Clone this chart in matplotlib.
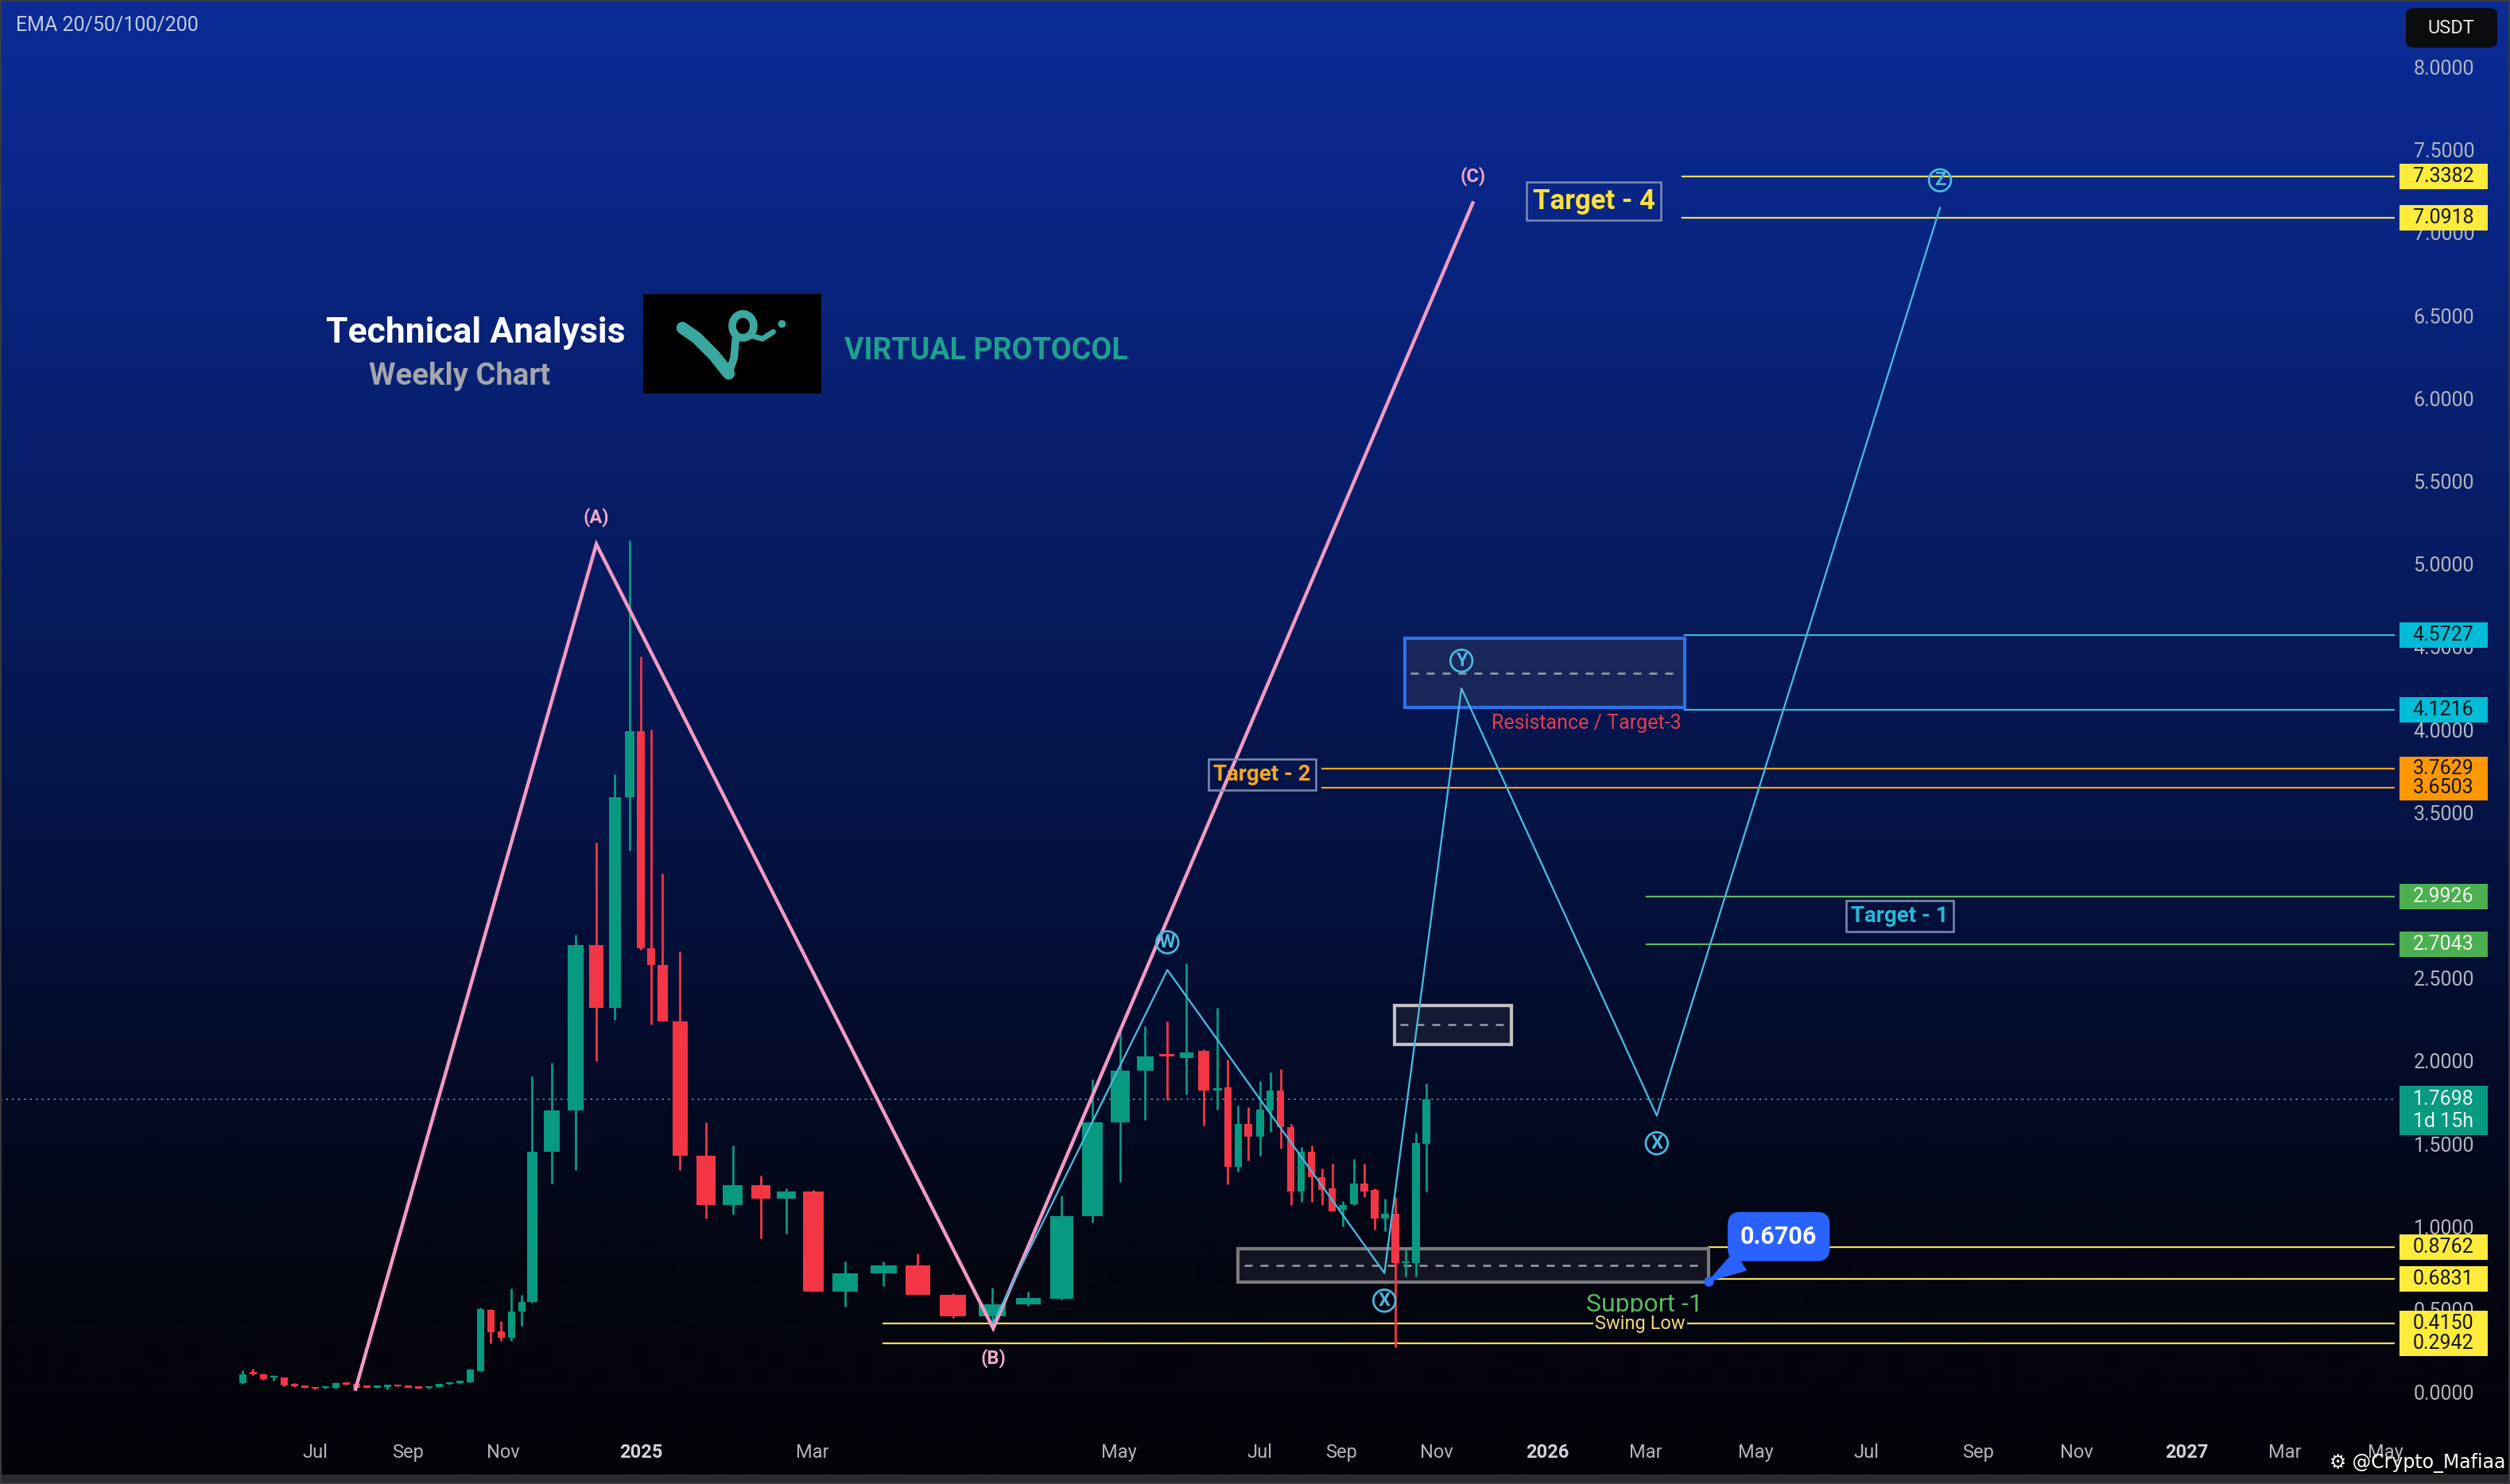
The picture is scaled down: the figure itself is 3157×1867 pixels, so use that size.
#!/usr/bin/env python3
"""VIRTUAL/USDT weekly chart with wave count, targets and support levels."""

import numpy as np
import matplotlib
matplotlib.use('Agg')
import matplotlib.pyplot as plt
import matplotlib.transforms as mtransforms
from matplotlib.patches import Rectangle, FancyBboxPatch, Ellipse

plt.rcParams['font.family'] = ['Roboto', 'DejaVu Sans']

# ---------------------------------------------------------------- data ----
# position of each weekly bar on the drawn time axis (in weeks)
bar_t = [0, 1, 2, 3, 4, 5, 6, 7, 8, 9,
         10, 11, 12, 13, 14, 15, 16, 17, 18, 19,
         20, 21, 22, 23, 24, 25, 26, 27, 28,
         29.9, 32.2, 34.2, 36.0, 37.4, 38.5, 39.5, 40.6, 42.3, 44.8,
         47.4, 50.1, 52.6, 55.2, 58.3, 62.0, 65.3, 68.7, 72.5, 76.0,
         79.2, 82.2, 84.9, 87.3, 89.4, 91.3, 93.0, 94.3, 95.3, 96.3,
         97.3, 98.4, 99.4, 100.4, 101.4, 102.4, 103.4, 104.4, 105.4, 106.4,
         107.5, 108.5, 109.5, 110.5, 111.5, 112.5, 113.5, 114.5]
opens = [0.054, 0.118, 0.110, 0.088, 0.088, 0.045, 0.035, 0.030, 0.027, 0.026,
         0.057, 0.050, 0.032, 0.029, 0.034, 0.038, 0.032, 0.028, 0.025, 0.033,
         0.050, 0.056, 0.062, 0.130, 0.497, 0.370, 0.330, 0.486, 0.545,
         1.45, 1.70, 2.70, 2.32, 3.59, 3.99, 2.68, 2.58, 2.24, 1.43,
         1.13, 1.25, 1.17, 1.21, 0.61, 0.72, 0.765, 0.59, 0.46, 0.53,
         0.565, 1.065, 1.63, 1.94, 2.04, 2.02, 2.06, 1.82, 1.84, 1.36,
         1.62, 1.545, 1.70, 1.82, 1.60, 1.21, 1.45, 1.30, 1.23, 1.10,
         1.135, 1.26, 1.22, 1.05, 1.08, 0.78, 0.78, 1.50]
highs = [0.133, 0.140, 0.112, 0.105, 0.090, 0.054, 0.036, 0.031, 0.031, 0.060,
         0.062, 0.052, 0.034, 0.033, 0.037, 0.039, 0.033, 0.029, 0.032, 0.053,
         0.058, 0.066, 0.140, 0.510, 0.500, 0.430, 0.625, 0.590, 1.91,
         1.99, 2.76, 3.32, 3.73, 5.14, 4.44, 4.00, 3.13, 2.66, 1.63,
         1.49, 1.31, 1.23, 1.22, 0.79, 0.79, 0.84, 0.60, 0.63, 0.61,
         1.19, 1.89, 2.17, 2.21, 2.24, 2.59, 2.07, 2.32, 2.01, 1.73,
         1.72, 1.88, 1.93, 1.95, 1.62, 1.48, 1.49, 1.35, 1.38, 1.155,
         1.41, 1.38, 1.23, 1.17, 1.18, 0.86, 1.565, 1.865]
lows = [0.050, 0.105, 0.075, 0.072, 0.036, 0.033, 0.026, 0.018, 0.024, 0.024,
        0.045, 0.022, 0.026, 0.027, 0.016, 0.033, 0.027, 0.021, 0.024, 0.032,
        0.045, 0.052, 0.060, 0.128, 0.298, 0.310, 0.310, 0.400, 0.540,
        1.26, 1.34, 2.00, 2.25, 3.27, 2.67, 2.22, 2.24, 1.34, 1.05,
        1.075, 0.93, 0.96, 0.61, 0.515, 0.64, 0.59, 0.45, 0.39, 0.52,
        0.56, 1.025, 1.27, 1.645, 1.765, 1.80, 1.61, 1.705, 1.257, 1.33,
        1.40, 1.43, 1.57, 1.47, 1.13, 1.15, 1.15, 1.13, 1.09, 1.00,
        1.13, 1.18, 0.98, 0.97, 0.27, 0.70, 0.70, 1.21]
closes = [0.110, 0.110, 0.080, 0.092, 0.040, 0.037, 0.029, 0.022, 0.030, 0.057,
          0.047, 0.026, 0.029, 0.032, 0.036, 0.035, 0.029, 0.024, 0.031, 0.050,
          0.056, 0.062, 0.137, 0.500, 0.364, 0.330, 0.490, 0.547, 1.45,
          1.70, 2.70, 2.32, 3.59, 3.99, 2.68, 2.58, 2.24, 1.43, 1.13,
          1.25, 1.17, 1.21, 0.61, 0.72, 0.765, 0.59, 0.46, 0.53, 0.57,
          1.065, 1.63, 1.94, 2.03, 2.03, 2.05, 1.82, 1.835, 1.36, 1.62,
          1.545, 1.705, 1.82, 1.60, 1.21, 1.45, 1.30, 1.22, 1.09, 1.13,
          1.26, 1.21, 1.05, 1.08, 0.78, 0.79, 1.505, 1.7698]
last_price = 1.7698

tick_t = [7.0, 16.0, 25.2, 38.5, 55.1, 84.8, 98.4, 106.3, 115.5, 126.2,
          135.7, 146.4, 157.1, 167.9, 177.4, 188.1, 197.6, 207.3]
tick_labels = ['Jul', 'Sep', 'Nov', '2025', 'Mar', 'May', 'Jul', 'Sep', 'Nov',
               '2026', 'Mar', 'May', 'Jul', 'Sep', 'Nov', '2027', 'Mar', 'May']
price_ticks = [0.0, 0.5, 1.0, 1.5, 2.0, 2.5, 3.0, 3.5, 4.0,
               4.5, 5.0, 5.5, 6.0, 6.5, 7.0, 7.5, 8.0]

# (A)-(B)-(C) swing
abc_t = [10.9, 34.2, 72.6, 119.0]
abc_p = [0.02, 5.12, 0.386, 7.18]
abc_names = ['', '(A)', '(B)', '(C)']

# W-X-Y-X-Z projection
wxy_t = [72.6, 89.45, 110.45, 117.9, 136.8, 164.2]
wxy_p = [0.42, 2.55, 0.72, 4.25, 1.67, 7.15]
wxy_names = ['', 'W', 'X', 'Y', 'X', 'Z']

# horizontal levels drawn to the price scale
level_prices = [7.3382, 7.0918, 4.5727, 4.1216, 3.7629, 3.6503,
                2.9926, 2.7043, 0.8762, 0.6831, 0.4150, 0.2942]
level_start_t = [139.3, 139.3, 139.5, 139.5, 104.4, 104.4,
                 135.8, 135.8, 141.8, 141.8, 62.0, 62.0]
level_kind = ['t4', 't4', 'res', 'res', 't2', 't2',
              't1', 't1', 'sup', 'sup', 'swing', 'swing']

# boxed zones: resistance / mid box / support
zone_t0 = [112.4, 111.4, 96.3]
zone_t1 = [139.5, 122.7, 141.8]
zone_lo = [4.135, 2.10, 0.666]
zone_hi = [4.55, 2.337, 0.869]

# target labels
target_names = ['Target - 4', 'Target - 2', 'Target - 1']
target_t = [130.7, 98.6, 160.3]
target_p = [7.19, 3.73, 2.874]

support_price = 0.6706

# ------------------------------------------------------------- layout ----
W, H, DPI = 3157, 1867, 100
AX_RIGHT_PX, AX_BOTTOM_PX = 3012, 1795

GREEN, RED = '#089981', '#f23645'
PINK, CYAN = '#f29ac4', '#4bb6dc'

LEVEL_STYLE = {
    't4': ('#f2dc5d', '#ffeb3b', '#131722'),
    'res': ('#38b2d6', '#00bcd4', '#131722'),
    't2': ('#f5a020', '#ff9800', '#131722'),
    't1': ('#5cb85c', '#4caf50', '#eef5ee'),
    'sup': ('#f2dc5d', '#ffeb3b', '#131722'),
    'swing': ('#f2dc5d', '#ffeb3b', '#131722'),
}


def draw_background(fig):
    """Vertical blue-to-black gradient behind everything."""
    stops = [0.0, 0.1, 0.45, 0.55, 0.6, 0.75, 0.85, 1.0]
    cols = np.array([(12, 44, 150), (10, 40, 140), (6, 24, 85), (4, 20, 70),
                     (4, 17, 60), (3, 10, 35), (3, 6, 18), (3, 3, 8)]) / 255
    f = np.linspace(0, 1, H)
    img = np.stack([np.interp(f, stops, cols[:, i]) for i in range(3)], axis=-1)
    bg = fig.add_axes([0, 0, 1, 1], zorder=-10)
    bg.imshow(img[:, None, :], aspect='auto', extent=[0, 1, 0, 1], origin='upper')
    bg.axis('off')
    # bottom strip and frame
    fig.patches.append(Rectangle((0, 0), 1, 12 / H, transform=fig.transFigure,
                                 fc='#2a2a2e', ec='none', zorder=-5))
    fig.patches.append(Rectangle((0, 0), 1, 1, transform=fig.transFigure,
                                 fill=False, ec='#3a3a3e', lw=3, zorder=20))


def draw_candles(ax):
    t = np.array(bar_t)
    o, h, l, c = map(np.array, (opens, highs, lows, closes))
    colors = np.where(c >= o, GREEN, RED)
    width = np.gradient(t) * 0.72
    ax.vlines(t, l, h, colors=colors, lw=2.0, zorder=3)
    body_low = np.minimum(o, c)
    body_h = np.maximum(np.abs(c - o), 0.012)
    ax.bar(t, body_h, width, bottom=body_low, color=colors, lw=0, zorder=3.1)
    ax.axhline(last_price, color='#5f8f9a', lw=1.2, ls=(0, (1.5, 3)), zorder=1.5)


def draw_waves(ax):
    ax.plot(abc_t, abc_p, color=PINK, lw=3.2, zorder=4, solid_joinstyle='miter')
    for i, name in enumerate(abc_names):
        if not name:
            continue
        up = abc_p[i] > abc_p[i - 1]
        ax.annotate(name, (abc_t[i], abc_p[i]), xytext=(0, 24 if up else -27),
                    textcoords='offset points', ha='center', va='center',
                    color='#f0a8c8', fontsize=17, fontweight='bold', zorder=6)

    ax.plot(wxy_t, wxy_p, color=CYAN, lw=1.7, zorder=4)
    for i, name in enumerate(wxy_names):
        if not name:
            continue
        up = wxy_p[i] > wxy_p[i - 1]
        ax.annotate(name, (wxy_t[i], wxy_p[i]), xytext=(0, 25 if up else -25),
                    textcoords='offset points', ha='center', va='center',
                    color=CYAN, fontsize=17, fontweight='bold', zorder=6,
                    bbox=dict(boxstyle='circle,pad=0.1', fc='none', ec=CYAN, lw=2.0))


def draw_zones(ax):
    edges = ['#2f6fe8', '#c0c0c0', '#7a7a7e']
    faces = [(0.12, 0.17, 0.36, 0.8), (0.10, 0.12, 0.22, 0.8), (0.09, 0.10, 0.15, 0.85)]
    for t0, t1, lo, hi, ec, fc in zip(zone_t0, zone_t1, zone_lo, zone_hi, edges, faces):
        ax.add_patch(Rectangle((t0, lo), t1 - t0, hi - lo, fc=fc, ec=ec, lw=3, zorder=2.5))
        ax.plot([t0 + 0.6, t1 - 0.6], [(lo + hi) / 2] * 2, color='#9aa0aa',
                lw=1.8, ls=(0, (4, 4)), zorder=2.6)


def draw_levels(ax, fig):
    blend = mtransforms.blended_transform_factory(fig.transFigure, ax.transData)
    x_end = ax.get_xlim()[1]
    for p, t0, kind in zip(level_prices, level_start_t, level_kind):
        line_c, badge_c, text_c = LEVEL_STYLE[kind]
        ax.plot([t0, x_end], [p, p], color=line_c, lw=1.6, zorder=2.2)
        ax.add_patch(FancyBboxPatch((3018 / W, p - 0.076), 111 / W, 0.152,
                                    boxstyle='square,pad=0', transform=blend,
                                    fc=badge_c, ec='none', clip_on=False, zorder=6))
        ax.text(3073 / W, p, f'{p:.4f}', transform=blend, ha='center', va='center',
                fontsize=18, color=text_c, clip_on=False, zorder=7)

    # current price badge
    ax.add_patch(FancyBboxPatch((3018 / W, last_price - 0.215), 111 / W, 0.295,
                                boxstyle='square,pad=0', transform=blend,
                                fc=GREEN, ec='none', clip_on=False, zorder=6))
    ax.text(3073 / W, last_price, f'{last_price:.4f}', transform=blend, ha='center',
            va='center', fontsize=18, color='#e8f4f0', clip_on=False, zorder=7)
    ax.text(3073 / W, last_price - 0.135, '1d 15h', transform=blend, ha='center',
            va='center', fontsize=18, color='#e8f4f0', clip_on=False, zorder=7)


def draw_labels(ax):
    colors = ['#ffe03a', '#f5a524', '#2ab7d6']
    sizes = [25, 20, 20]
    for name, t, p, c, s in zip(target_names, target_t, target_p, colors, sizes):
        ax.text(t, p, name, ha='center', va='center', color=c, fontsize=s,
                fontweight='bold', zorder=6,
                bbox=dict(boxstyle='square,pad=0.22', fc='none', ec='#7d8bb0', lw=1.8))

    ax.text(130.0, 4.04, 'Resistance / Target-3', ha='center', va='center',
            color='#e0404f', fontsize=18, zorder=6)
    ax.text(135.6, 0.53, 'Support -1', ha='center', va='center',
            color='#5cb860', fontsize=23, zorder=6)
    ax.text(135.2, 0.4150, 'Swing Low', ha='center', va='center',
            color='#f5d77a', fontsize=17, zorder=6,
            bbox=dict(boxstyle='square,pad=0.1', fc='#03060f', ec='none'))

    # price callout on the support box corner
    ax.plot([141.8], [support_price], 'o', color='#2962ff', ms=8, zorder=7)
    ax.annotate(f'{support_price:.4f}', (141.8, support_price), xytext=(148.6, 0.94),
                ha='center', va='center', color='white', fontsize=22,
                fontweight='bold', zorder=8,
                bbox=dict(boxstyle='round,pad=0.5', fc='#2962ff', ec='#2962ff'),
                arrowprops=dict(arrowstyle='wedge,tail_width=0.9,shrink_factor=0.5',
                                fc='#2962ff', ec='#2962ff', shrinkA=0, shrinkB=0))


def draw_header(fig):
    fig.text(20 / W, 1 - 32 / H, 'EMA 20/50/100/200', color='#c3cbe0',
             fontsize=18, va='center', ha='left')
    fig.text(598 / W, 1 - 419 / H, 'Technical Analysis', color='white',
             fontsize=32, fontweight='bold', ha='center', va='center')
    fig.text(578 / W, 1 - 473 / H, 'Weekly Chart', color='#a4a6ac',
             fontsize=27.5, fontweight='bold', ha='center', va='center')
    fig.text(1240 / W, 1 - 441 / H, 'VIRTUAL PROTOCOL', color='#1fa08e',
             fontsize=27, fontweight='bold', ha='center', va='center')

    # logo tile
    logo = fig.add_axes([809 / W, 1 - 495 / H, 224 / W, 125 / H])
    logo.set_facecolor('black')
    logo.set_xlim(0, 1)
    logo.set_ylim(0, 1)
    logo.set_xticks([])
    logo.set_yticks([])
    for s in logo.spines.values():
        s.set_visible(False)
    teal = '#3aa8a0'
    logo.plot([0.22, 0.30, 0.40, 0.48], [0.66, 0.56, 0.38, 0.20], color=teal,
              lw=11, solid_capstyle='round')
    logo.plot([0.48, 0.51, 0.52], [0.20, 0.36, 0.56], color=teal, lw=7,
              solid_capstyle='round')
    logo.add_patch(Ellipse((0.56, 0.68), 0.12, 0.24, fill=False, ec=teal, lw=7))
    logo.plot([0.61, 0.67, 0.73], [0.58, 0.55, 0.62], color=teal, lw=5,
              solid_capstyle='round')
    logo.plot([0.775], [0.70], 'o', color=teal, ms=6)

    # quote currency tag
    fig.patches.append(FancyBboxPatch((3026 / W, 1 - 60 / H), 115 / W, 50 / H,
                                      boxstyle='round,pad=0,rounding_size=0.004',
                                      transform=fig.transFigure, fc='#0b0c10',
                                      ec='none', zorder=5))
    fig.text(3083 / W, 1 - 35 / H, 'USDT', color='#e6e6e6', fontsize=17,
             ha='center', va='center', zorder=6)
    fig.text(2930 / W, 1 - 1840 / H, '\u2699 @Crypto_Mafiaa', color='white',
             fontsize=17, ha='left', va='center', zorder=6,
             family=['DejaVu Sans'])


def main():
    fig = plt.figure(figsize=(W / DPI, H / DPI), dpi=DPI)
    draw_background(fig)

    ax = fig.add_axes([0, 1 - AX_BOTTOM_PX / H, AX_RIGHT_PX / W, AX_BOTTOM_PX / H])
    ax.set_facecolor('none')
    ax.set_xlim(-23.5, 208.2)
    ax.set_ylim(-0.208, 8.405)
    for s in ax.spines.values():
        s.set_visible(False)

    ax.set_xticks(tick_t)
    ax.set_xticklabels(tick_labels)
    ax.tick_params(axis='x', length=0, pad=15, labelsize=17, labelcolor='#b2b5be')
    for lab in ax.get_xticklabels():
        if lab.get_text().isdigit():
            lab.set_fontweight('bold')
            lab.set_color('#d1d4dc')

    ax.yaxis.tick_right()
    ax.set_yticks(price_ticks)
    ax.set_yticklabels([f'{p:.4f}' for p in price_ticks])
    ax.tick_params(axis='y', length=0, pad=17, labelsize=18, labelcolor='#b2b5be')

    draw_zones(ax)
    draw_levels(ax, fig)
    draw_candles(ax)
    draw_waves(ax)
    draw_labels(ax)
    draw_header(fig)

    fig.savefig('out.png', dpi=DPI)
    plt.close(fig)


if __name__ == '__main__':
    main()
